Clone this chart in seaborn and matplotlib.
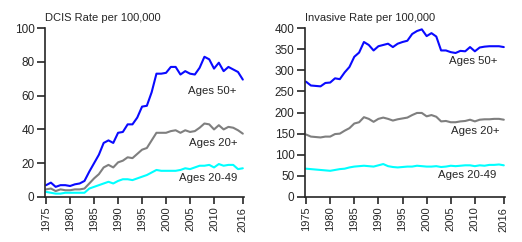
import numpy as np
import pandas as pd
import matplotlib
matplotlib.use('Agg')
import matplotlib.pyplot as plt
import seaborn as sns

years = list(range(1975, 2017))

# DCIS rate per 100,000
dcis_50 = [7, 8.5, 6, 7, 7, 6.5, 7.5, 8, 9.5, 15, 20, 25, 32, 33.5, 32, 38, 38.5, 43, 43, 47,
           53.5, 54, 62, 73, 73, 73.5, 77, 77, 72.5, 74.5, 73, 72.5, 76.5, 83, 81.5, 76, 79.5,
           74.5, 77, 75.5, 74, 69.5]
dcis_20 = [4.5, 5, 3.5, 4.5, 4, 4, 4.5, 4.5, 5, 8, 11, 13.5, 17.5, 19, 17.5, 20.5, 21.5, 23.5,
           23, 25.5, 28, 29, 33.5, 38, 38, 38, 39, 39.5, 38, 39.5, 38.5, 39, 41, 43.5, 43, 40,
           42.5, 40, 41.5, 41, 39.5, 37.5]
dcis_2049 = [3, 2.5, 2, 2, 2.5, 2.5, 2.5, 2.5, 2.5, 5, 6, 7, 8, 9, 8, 9.5, 10.5, 10.5, 10, 11,
             12, 13, 14.5, 16, 15.5, 15.5, 15.5, 15.5, 16, 17, 16.5, 17.5, 18.5, 18.5, 19, 17.5,
             19.5, 18.5, 19, 19, 16.5, 17]

# Invasive rate per 100,000
inv_50 = [273, 264, 263, 262, 270, 271, 281, 279, 295, 308, 332, 342, 367, 360, 347, 357, 360,
          363, 355, 363, 367, 370, 386, 393, 397, 381, 388, 380, 347, 347, 343, 341, 346, 345,
          355, 345, 354, 356, 357, 357, 357, 355]
inv_20 = [148, 143, 142, 141, 143, 143, 149, 150, 157, 163, 174, 177, 189, 185, 178, 185, 188,
          185, 181, 184, 186, 188, 194, 199, 199, 191, 194, 190, 179, 180, 177, 177, 179, 180,
          183, 179, 183, 184, 184, 185, 185, 183]
inv_2049 = [67, 66, 65, 64, 63, 62, 64, 66, 67, 70, 72, 73, 74, 73, 72, 75, 78, 73, 71, 70, 71,
            72, 72, 74, 73, 72, 72, 73, 71, 72, 74, 73, 74, 75, 75, 73, 75, 74, 76, 76, 77, 75]

groups = ['Ages 50+', 'Ages 20+', 'Ages 20-49']
colors = {'Ages 50+': '#0a0aff', 'Ages 20+': '#7f7f7f', 'Ages 20-49': '#00ffff'}
xticks = [1975, 1980, 1985, 1990, 1995, 2000, 2005, 2010, 2016]


def long_df(series):
    rows = []
    for g, vals in zip(groups, series):
        for y, v in zip(years, vals):
            rows.append((y, v, g))
    return pd.DataFrame(rows, columns=['Year', 'Rate', 'Group'])


dcis = long_df([dcis_50, dcis_20, dcis_2049])
inv = long_df([inv_50, inv_20, inv_2049])

sns.set_style('ticks')
plt.rcParams['font.family'] = ['Liberation Sans', 'DejaVu Sans']

fig = plt.figure(figsize=(5.22, 2.42), dpi=100)
ax1 = fig.add_axes([0.086, 0.186, 0.381, 0.698])
ax2 = fig.add_axes([0.584, 0.186, 0.383, 0.698])

panels = [
    (ax1, dcis, 'DCIS Rate per 100,000', 100, [0, 20, 40, 60, 80, 100],
     [(2009.7, 63, 'Ages 50+'), (2009.8, 32, 'Ages 20+'), (2008.7, 11, 'Ages 20-49')]),
    (ax2, inv, 'Invasive Rate per 100,000', 400, [0, 50, 100, 150, 200, 250, 300, 350, 400],
     [(2009.6, 322, 'Ages 50+'), (2010.0, 156, 'Ages 20+'), (2008.4, 52, 'Ages 20-49')]),
]

for ax, df, title, ymax, yt, labels in panels:
    sns.lineplot(data=df, x='Year', y='Rate', hue='Group', palette=colors, ax=ax,
                 linewidth=1.5, legend=False)
    ax.set_xlim(1974.75, 2016.2)
    ax.set_ylim(0, ymax)
    ax.set_yticks(yt)
    ax.set_xticks(xticks)
    ax.set_xticklabels([str(x) for x in xticks], rotation=90, fontsize=8)
    ax.tick_params(axis='y', labelsize=8.5, length=5.5, width=1.2, pad=2)
    ax.tick_params(axis='x', length=5, width=1.2, pad=2)
    ax.set_xlabel('')
    ax.set_ylabel('')
    sns.despine(ax=ax)
    for s in ['left', 'bottom']:
        ax.spines[s].set_linewidth(1.2)
    ax.set_title(title, loc='left', fontsize=8, pad=5)
    for x, y, t in labels:
        ax.text(x, y, t, ha='center', va='center', fontsize=8.2)

fig.savefig('out.png', dpi=100)
